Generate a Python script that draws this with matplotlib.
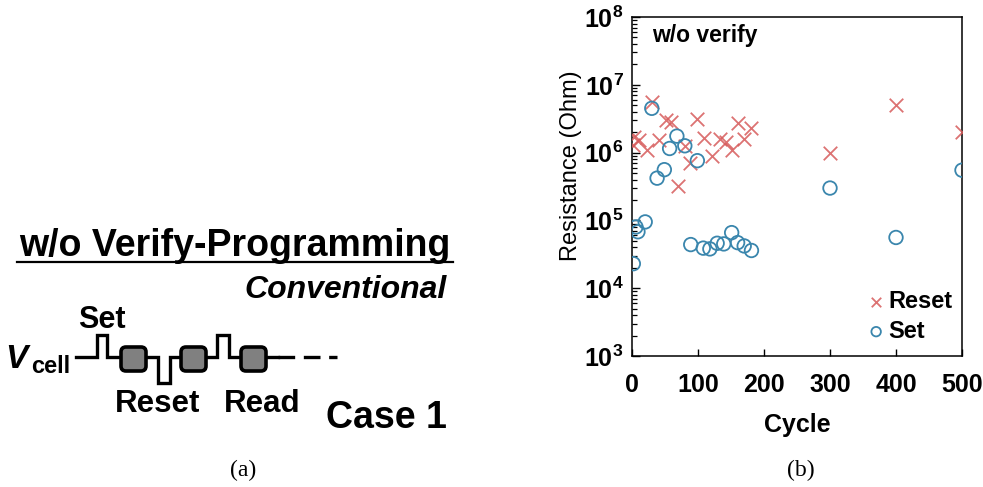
import matplotlib
matplotlib.use("Agg")
import matplotlib.pyplot as plt
from matplotlib.patches import FancyBboxPatch
from matplotlib.ticker import LogLocator, FixedLocator

plt.rcParams['font.family'] = ['Liberation Sans', 'DejaVu Sans']
plt.rcParams['mathtext.default'] = 'regular'

# ---- data: resistance read after each pulse (Ohm) ----
reset_cycle = [1, 3, 10, 22, 30, 41, 52, 59, 70, 80, 88, 99, 109, 121, 133, 142, 151, 160, 170, 181, 300, 400, 500]
reset_ohm = [1.3e6, 1.7e6, 1.55e6, 1.1e6, 5.6e6, 1.55e6, 3.0e6, 2.8e6, 3.2e5, 1.25e6, 7.1e5, 3.1e6,
             1.65e6, 8.9e5, 1.6e6, 1.45e6, 1.1e6, 2.7e6, 1.6e6, 2.3e6, 9.8e5, 5.1e6, 2.0e6]

set_cycle = [2, 6, 9, 20, 30, 38, 49, 57, 68, 80, 99, 89, 108, 118, 129, 139, 151, 160, 170, 181, 300, 400, 500]
set_ohm = [2.3e4, 8.0e4, 6.8e4, 9.5e4, 4.5e6, 4.2e5, 5.6e5, 1.15e6, 1.75e6, 1.26e6, 7.6e5, 4.4e4,
           3.9e4, 3.8e4, 4.6e4, 4.5e4, 6.6e4, 4.7e4, 4.2e4, 3.6e4, 3.0e5, 5.6e4, 5.5e5]

x_ticks = [0, 100, 200, 300, 400, 500]
y_ticks = [1e3, 1e4, 1e5, 1e6, 1e7, 1e8]

RESET_C = '#d65a5a'
SET_C = '#3a86ad'

W, H = 983, 487
fig = plt.figure(figsize=(W / 100, H / 100), dpi=100)

# ---------------- (a) pulse scheme, drawn in pixel units ----------------
axa = fig.add_axes([0, 0, 500 / W, 1])
axa.set_xlim(0, 500)
axa.set_ylim(H, 0)
axa.axis('off')

base = 356.7
hi, lo = 335.0, 382.7
# waveform vertices: flat line, set pulse, box, reset pulse, box, set pulse, box
wave_x = [76, 97.3, 97.3, 107.3, 107.3, 158.3, 158.3, 170, 170, 217.3, 217.3, 228.7, 228.7, 278]
wave_y = [base, base, hi, hi, base, base, lo, lo, base, base, hi, hi, base, base]
axa.plot(wave_x, wave_y, color='black', lw=2.4, solid_joinstyle='miter', zorder=2)
axa.plot([278, 337], [base, base], color='black', lw=2.4, dashes=(5, 2.6), zorder=2)

for bx in (121, 181, 241):
    axa.add_patch(FancyBboxPatch((bx, 347), 25, 24, boxstyle='round,pad=0,rounding_size=5',
                                 facecolor='#808080', edgecolor='black', lw=2.6, zorder=3))

bold = dict(fontweight='bold', color='black')
axa.text(235, 256, 'w/o Verify-Programming', ha='center', va='baseline', fontsize=27, **bold)
axa.plot([17, 453], [261.5, 261.5], color='black', lw=1.6)
axa.text(447, 298, 'Conventional', ha='right', va='baseline', fontsize=23, fontstyle='italic', **bold)
axa.text(102, 328, 'Set', ha='center', va='baseline', fontsize=22, **bold)
axa.text(27, 368, 'V', ha='right', va='baseline', fontsize=24, fontstyle='italic', **bold)
axa.text(31, 373, 'cell', ha='left', va='baseline', fontsize=17, **bold)
axa.text(158, 411.7, 'Reset', ha='center', va='baseline', fontsize=22.5, **bold)
axa.text(262, 411.7, 'Read', ha='center', va='baseline', fontsize=22.5, **bold)
axa.text(386, 428, 'Case 1', ha='center', va='baseline', fontsize=27, **bold)
axa.text(243, 470, '(a)', ha='center', va='center', fontsize=17, family='Liberation Serif')

# ---------------- (b) resistance vs cycle ----------------
ax = fig.add_axes([632 / W, 1 - 356 / H, 330 / W, 339 / H])
ax.set_yscale('log')
ax.set_xlim(0, 500)
ax.set_ylim(1e3, 1e8)

ax.scatter(reset_cycle, reset_ohm, marker='x', s=95, color=RESET_C, linewidths=1.3, alpha=0.85,
           label='Reset', zorder=3)
ax.scatter(set_cycle, set_ohm, marker='o', s=95, facecolors='none', edgecolors=SET_C, linewidths=1.3,
           label='Set', zorder=4)

ax.xaxis.set_major_locator(FixedLocator(x_ticks))
ax.yaxis.set_major_locator(FixedLocator(y_ticks))
ax.yaxis.set_minor_locator(LogLocator(base=10, subs=range(2, 10)))
ax.set_yticklabels([f'$10^{{{len(str(int(v))) - 1}}}$' for v in y_ticks])

ax.tick_params(axis='x', which='both', direction='in', length=5, width=1.0, top=False,
               pad=12, labelsize=18)
ax.tick_params(axis='y', which='major', direction='in', length=6, width=1.0, right=False,
               pad=6, labelsize=18)
ax.tick_params(axis='y', which='minor', direction='in', length=3.5, width=0.9, right=False)
for lab in ax.get_xticklabels() + ax.get_yticklabels():
    lab.set_fontweight('bold')
for sp in ax.spines.values():
    sp.set_linewidth(1.1)

ax.set_xlabel('Cycle', fontsize=18, fontweight='bold', labelpad=12)
ax.set_ylabel('Resistance (Ohm)', fontsize=17, fontweight='normal')
ax.yaxis.set_label_coords(-0.15, 0.56)

ax.text(0.06, 0.945, 'w/o verify', transform=ax.transAxes, ha='left', va='center',
        fontsize=16.5, fontweight='bold')

leg = ax.legend(loc='lower right', bbox_to_anchor=(1.02, -0.01), frameon=False, fontsize=17,
                markerscale=0.7, handletextpad=0.05, handlelength=0.9, labelspacing=0.3,
                borderaxespad=0.3)
for t in leg.get_texts():
    t.set_fontweight('bold')

fig.text(801 / W, 1 - 470 / H, '(b)', ha='center', va='center', fontsize=17, family='Liberation Serif')

fig.savefig('out.png', dpi=100)
